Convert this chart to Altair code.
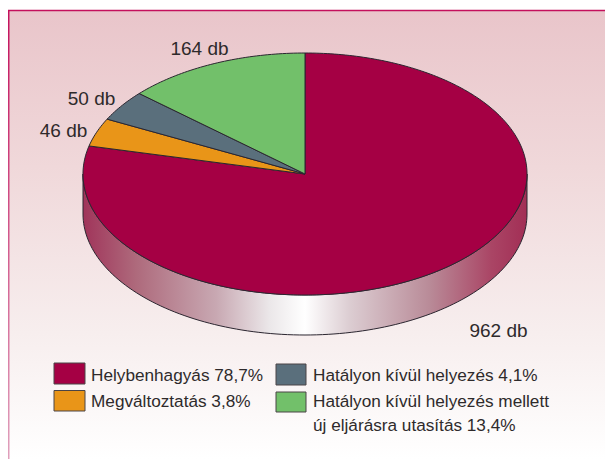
import math
import altair as alt
import pandas as pd

categories = ["Helybenhagyás", "Megváltoztatás", "Hatályon kívül helyezés", "Hatályon kívül helyezés mellett"]
counts = [962, 46, 50, 164]
count_labels = ["962 db", "46 db", "50 db", "164 db"]
colors = ["#a50044", "#e99518", "#5a6f7c", "#72c06a"]

FONT = "Liberation Sans"
TEXT = "#2e2a2b"
EDGE = "#2b2630"
DEPTH = 40 / 121

x_enc = alt.X("x:Q", scale=alt.Scale(domain=[-1, 1], range=[83, 527]), axis=None)
y_enc = alt.Y("y:Q", scale=alt.Scale(domain=[-1, 1], range=[295, 53]), axis=None)
ord_enc = alt.Order("i:Q")


def outline(pts, fill, stroke=EDGE, width=1.0):
    df = pd.DataFrame([{"x": a, "y": b, "i": i} for i, (a, b) in enumerate(pts)])
    return alt.Chart(df).mark_line(fill=fill, stroke=stroke, strokeWidth=width, strokeJoin="round").encode(
        x=x_enc, y=y_enc, order=ord_enc
    )


def sector_points(a0, a1):
    n = max(2, int(abs(a1 - a0) * 60))
    pts = [(0.0, 0.0)]
    for k in range(n + 1):
        t = a0 + (a1 - a0) * k / n
        pts.append((math.sin(t), math.cos(t)))
    pts.append((0.0, 0.0))
    return pts


def label(text, px, py, align="left", size=17.2):
    return alt.Chart(pd.DataFrame({"t": [text]})).mark_text(
        align=align, baseline="alphabetic", font=FONT, fontSize=size, color=TEXT
    ).encode(x=alt.value(px), y=alt.value(py), text="t:N")


def swatch(color, x0, x1, y0, y1):
    return alt.Chart(pd.DataFrame({"c": [color]})).mark_rect(
        fill=color, stroke="#4a4446", strokeWidth=1
    ).encode(x=alt.value(x0), x2=alt.value(x1), y=alt.value(y0), y2=alt.value(y1))


def fixed_rule(color, x0, x1, y0, y1, width):
    return alt.Chart(pd.DataFrame({"c": [0]})).mark_rule(stroke=color, strokeWidth=width).encode(
        x=alt.value(x0), x2=alt.value(x1), y=alt.value(y0), y2=alt.value(y1)
    )


background = alt.Chart(pd.DataFrame({"c": [0]})).mark_rect(
    fill=alt.Gradient(
        gradient="linear", x1=0, y1=0, x2=0, y2=1,
        stops=[
            alt.GradientStop(offset=0, color="#e9c5ca"),
            alt.GradientStop(offset=0.35, color="#f0d8da"),
            alt.GradientStop(offset=0.72, color="#f7eeee"),
            alt.GradientStop(offset=1, color="#ffffff"),
        ],
    )
).encode(x=alt.value(8), x2=alt.value(613), y=alt.value(10), y2=alt.value(459))

top_rule = fixed_rule("#c4105c", 8, 613, 10.5, 10.5, 1.5)
left_rule = alt.Chart(pd.DataFrame({"c": [0]})).mark_rect(
    fill=alt.Gradient(
        gradient="linear", x1=0, y1=0, x2=0, y2=1,
        stops=[
            alt.GradientStop(offset=0, color="#c4105c"),
            alt.GradientStop(offset=1, color="#e0a0bc"),
        ],
    )
).encode(x=alt.value(8), x2=alt.value(9.5), y=alt.value(10), y2=alt.value(459))

# Side wall of the disc: the lower half of the ellipse and the same curve one depth below
steps = 120
lower = [(math.cos(math.pi - math.pi * k / steps), -math.sin(math.pi * k / steps)) for k in range(steps + 1)]
wall = lower + [(a, b - DEPTH) for a, b in reversed(lower)] + [lower[0]]
side = outline(
    wall,
    alt.Gradient(
        gradient="linear", x1=0, y1=0, x2=1, y2=0,
        stops=[
            alt.GradientStop(offset=0, color="#a0345a"),
            alt.GradientStop(offset=0.12, color="#ae6a7c"),
            alt.GradientStop(offset=0.3, color="#c8a8b2"),
            alt.GradientStop(offset=0.42, color="#ebe7e9"),
            alt.GradientStop(offset=0.5, color="#ffffff"),
            alt.GradientStop(offset=0.6, color="#dccdd2"),
            alt.GradientStop(offset=0.78, color="#b98b98"),
            alt.GradientStop(offset=0.92, color="#aa4565"),
            alt.GradientStop(offset=1, color="#a22e55"),
        ],
    ),
)

total = sum(counts)
layers = [background, top_rule, left_rule, side]
angle = 0.0
for value, color in zip(counts, colors):
    end = angle + 2 * math.pi * value / total
    layers.append(outline(sector_points(angle, end), color))
    angle = end

layers += [
    label(count_labels[3], 199.5, 55, "center", 19),
    label(count_labels[2], 91.5, 105, "center", 19),
    label(count_labels[1], 63.5, 136.5, "center", 19),
    label(count_labels[0], 498.5, 336.5, "center", 19),
    swatch(colors[0], 54, 85, 363, 384),
    swatch(colors[1], 54, 85, 390.5, 411),
    swatch(colors[2], 276, 306, 364, 385),
    swatch(colors[3], 276, 306, 392, 412),
    label(f"{categories[0]} 78,7%", 91, 381),
    label(f"{categories[1]} 3,8%", 91, 407),
    label(f"{categories[2]} 4,1%", 313, 381),
    label(categories[3], 313, 407),
    label("új eljárásra utasítás 13,4%", 313, 431),
]

chart = alt.layer(*layers).properties(
    width=613,
    height=459,
    padding={"left": -8, "top": -8, "right": -8, "bottom": 0},
    autosize=alt.AutoSizeParams(type="none"),
    background="white",
).configure_view(stroke=None)

chart.save("out.html", embed_options={"renderer": "svg", "actions": False})
